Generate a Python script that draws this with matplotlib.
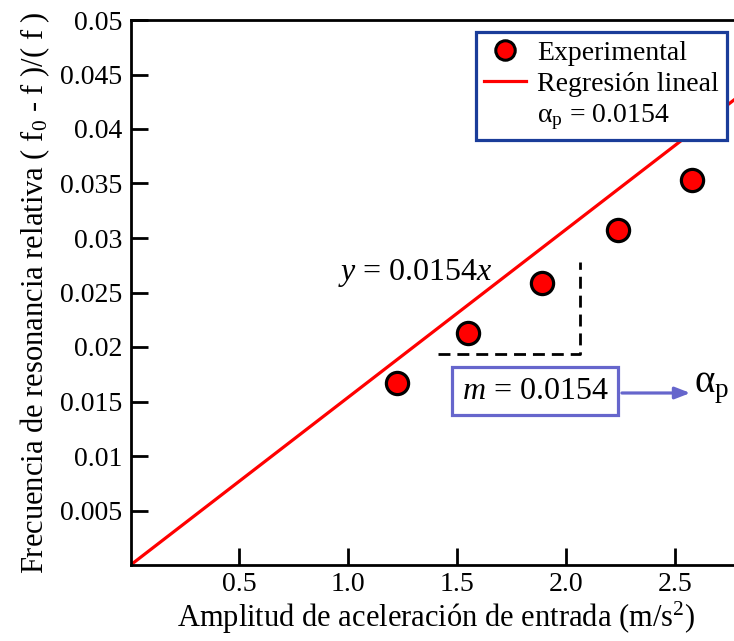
import matplotlib
matplotlib.use("Agg")
import matplotlib.pyplot as plt
from matplotlib.lines import Line2D
import numpy as np

# Measured data: input acceleration amplitude vs relative resonance shift
accel = [1.222, 1.550, 1.888, 2.236, 2.576]
rel_shift = [0.01672, 0.02131, 0.02590, 0.03073, 0.03532]

# Linear regression through the origin (stated slope)
slope = 0.0154

x_ticks = [0.5, 1.0, 1.5, 2.0, 2.5]
x_tick_labels = ["0.5", "1.0", "1.5", "2.0", "2.5"]
y_ticks = [0.005, 0.01, 0.015, 0.02, 0.025, 0.03, 0.035, 0.04, 0.045, 0.05]
y_tick_labels = ["0.005", "0.01", "0.015", "0.02", "0.025", "0.03",
                 "0.035", "0.04", "0.045", "0.05"]

plt.rcParams["font.family"] = ["Liberation Serif", "DejaVu Serif"]
plt.rcParams["mathtext.fontset"] = "custom"
plt.rcParams["mathtext.rm"] = "Liberation Serif"
plt.rcParams["mathtext.it"] = "Liberation Serif:italic"
plt.rcParams["mathtext.bf"] = "Liberation Serif:bold"

W, H = 734, 641
fig = plt.figure(figsize=(W / 100, H / 100), dpi=100)
ax = fig.add_axes([130.6 / W, 76 / H, 609.8 / W, 545 / H])

x_max = 2.8
ax.set_xlim(0, x_max)
ax.set_ylim(0, 0.05)

# Regression line
xl = np.array([0.0, x_max])
ax.plot(xl, slope * xl, color="#ff0000", lw=2.3, zorder=2,
        solid_capstyle="butt")

# Experimental points
ax.plot(accel, rel_shift, linestyle="none", marker="o", markersize=16,
        markerfacecolor="#ff0000", markeredgecolor="black",
        markeredgewidth=2.3, zorder=3)

# Slope triangle
ax.plot([1.411, 2.063, 2.063], [0.01936, 0.01936, 0.0278],
        color="black", lw=2.0, dashes=(4.3, 2.5), zorder=1)

# Equation text
ax.text(0.952, 0.0268, "$y$ = 0.0154$x$", fontsize=23,
        ha="left", va="center")

# Slope box with arrow to alpha_p
ax.text(1.857, 0.01595, "$m$ = 0.0154", fontsize=23, ha="center",
        va="center",
        bbox=dict(boxstyle="square,pad=0.3", facecolor="white",
                  edgecolor="#6666cc", linewidth=2.3))
ax.annotate("", xy=(2.57, 0.01578), xytext=(2.256, 0.01578),
            arrowprops=dict(arrowstyle="-|>,head_length=0.9,head_width=0.35",
                            color="#6666cc", lw=2.3,
                            shrinkA=0, shrinkB=0))
ax.text(2.585, 0.0163, "α$_\\mathrm{p}$", fontsize=28,
        ha="left", va="center")

# Axes styling
for side in ["left", "bottom", "top", "right"]:
    ax.spines[side].set_linewidth(2.0)
ax.set_xticks(x_ticks)
ax.set_xticklabels(x_tick_labels)
ax.set_yticks(y_ticks)
ax.set_yticklabels(y_tick_labels)
ax.tick_params(direction="in", length=12, width=2.0, labelsize=20,
               top=False, right=False)
ax.tick_params(axis="x", pad=5)
ax.tick_params(axis="y", pad=6)

ax.set_xlabel("Amplitud de aceleración de entrada (m/s$^2$)",
              fontsize=22, labelpad=2)
ax.set_ylabel("Frecuencia de resonancia relativa ( f$_0$ - f )/( f )",
              fontsize=22, labelpad=6)

# Legend
handles = [
    Line2D([], [], linestyle="none", marker="o", markersize=14,
           markerfacecolor="#ff0000", markeredgecolor="black",
           markeredgewidth=2.2),
    Line2D([], [], color="#ff0000", lw=2.3),
    Line2D([], [], linestyle="none"),
]
labels = ["Experimental", "Regresión lineal", "α$_\\mathrm{p}$ = 0.0154"]
leg = fig.legend(handles, labels, loc="upper right",
                 bbox_to_anchor=(727 / W, 1 - 32 / H),
                 bbox_transform=fig.transFigure, fontsize=20,
                 frameon=True, fancybox=False, framealpha=1,
                 handlelength=1.5, handletextpad=0.4, labelspacing=0.2,
                 borderpad=0.3, borderaxespad=0)
leg.get_frame().set_edgecolor("#1a3c99")
leg.get_frame().set_linewidth(2.3)

fig.savefig("out.png", dpi=100)
